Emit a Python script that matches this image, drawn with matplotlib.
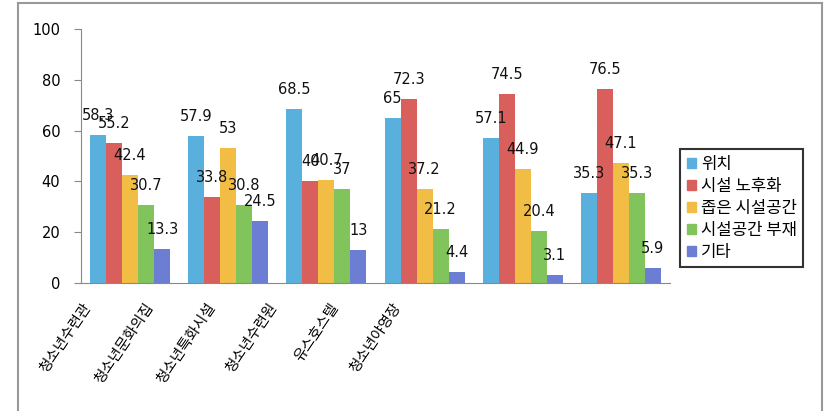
import matplotlib
matplotlib.use("Agg")
import matplotlib.pyplot as plt
import numpy as np
from matplotlib.patches import Rectangle
from matplotlib.lines import Line2D

plt.rcParams['font.family'] = ['Noto Sans CJK KR', 'DejaVu Sans']

categories = ['청소년수련관', '청소년문화의집', '청소년특화시설', '청소년수련원', '유스호스텔', '청소년야영장']
series_names = ['위치', '시설 노후화', '좁은 시설공간', '시설공간 부재', '기타']
loc_vals = [58.3, 57.9, 68.5, 65, 57.1, 35.3]
aging_vals = [55.2, 33.8, 40, 72.3, 74.5, 76.5]
narrow_vals = [42.4, 53, 40.7, 37.2, 44.9, 47.1]
absent_vals = [30.7, 30.8, 37, 21.2, 20.4, 35.3]
other_vals = [13.3, 24.5, 13, 4.4, 3.1, 5.9]
label_texts = [
    ['58.3', '57.9', '68.5', '65', '57.1', '35.3'],
    ['55.2', '33.8', '40', '72.3', '74.5', '76.5'],
    ['42.4', '53', '40.7', '37.2', '44.9', '47.1'],
    ['30.7', '30.8', '37', '21.2', '20.4', '35.3'],
    ['13.3', '24.5', '13', '4.4', '3.1', '5.9'],
]
yticks = [0, 20, 40, 60, 80, 100]

series = [loc_vals, aging_vals, narrow_vals, absent_vals, other_vals]
colors = ['#5AB0DC', '#D95F5D', '#F2BD45', '#80C45B', '#6B7ED3']

W, H = 828, 411
fig = plt.figure(figsize=(W/100, H/100), dpi=100)

# outer frame
fig.add_artist(Line2D([18/W, 18/W], [-0.1, 1-3/H], transform=fig.transFigure, color='#999999', lw=1.5))
fig.add_artist(Line2D([822/W, 822/W], [-0.1, 1-3/H], transform=fig.transFigure, color='#999999', lw=1.5))
fig.add_artist(Line2D([18/W, 822/W], [1-3/H, 1-3/H], transform=fig.transFigure, color='#999999', lw=1.5))

ax = fig.add_axes([81/W, 1-283/H, (670-81)/W, (283-29)/H])
x = np.arange(len(categories))
bw = 0.163
for i, (vals, c) in enumerate(zip(series, colors)):
    xs = x + (i - 2) * bw
    ax.bar(xs, vals, width=bw, color=c, label=series_names[i], edgecolor='none')
    for xi, v, t in zip(xs, vals, label_texts[i]):
        ax.annotate(t, (xi, v), xytext=(0, 14), textcoords='offset points',
                    ha='center', va='center', fontsize=10.5, color='#111111',
                    family=['DejaVu Sans'])

ax.set_xlim(-0.5, 5.5)
ax.set_ylim(0, 100)
ax.set_yticks(yticks)
ax.set_yticklabels([str(v) for v in yticks], fontsize=10.5, family=['DejaVu Sans'])
ax.tick_params(axis='y', length=5, color='#888888', pad=10)
ax.set_xticks([])
for s in ['top', 'right']:
    ax.spines[s].set_visible(False)
ax.spines['left'].set_color('#888888')
ax.spines['bottom'].set_color('#888888')

# category labels axis (labels in the reference are compressed to the left)
lab_ax = fig.add_axes([57/W, 1-302/H, 372/W, 0.001])
lab_ax.set_xlim(-0.5, 5.5)
lab_ax.set_xticks(x)
lab_ax.set_xticklabels(categories, rotation=56, ha='right', va='center',
                       rotation_mode='anchor', fontsize=10.5)
lab_ax.tick_params(axis='x', length=0, pad=2)
lab_ax.set_yticks([])
for s in lab_ax.spines.values():
    s.set_visible(False)
lab_ax.patch.set_alpha(0)

handles = [Rectangle((0, 0), 1, 1, color=c) for c in colors]
leg = fig.legend(handles, series_names, loc='upper left',
                 bbox_to_anchor=(680/W, 1-149/H), frameon=True, fancybox=False,
                 fontsize=12, handlelength=0.55, handleheight=0.55, handletextpad=0.3,
                 labelspacing=0.3, borderpad=0.4, borderaxespad=0)
leg.get_frame().set_edgecolor('black')
leg.get_frame().set_linewidth(1.5)

fig.savefig('out.png', dpi=100)
